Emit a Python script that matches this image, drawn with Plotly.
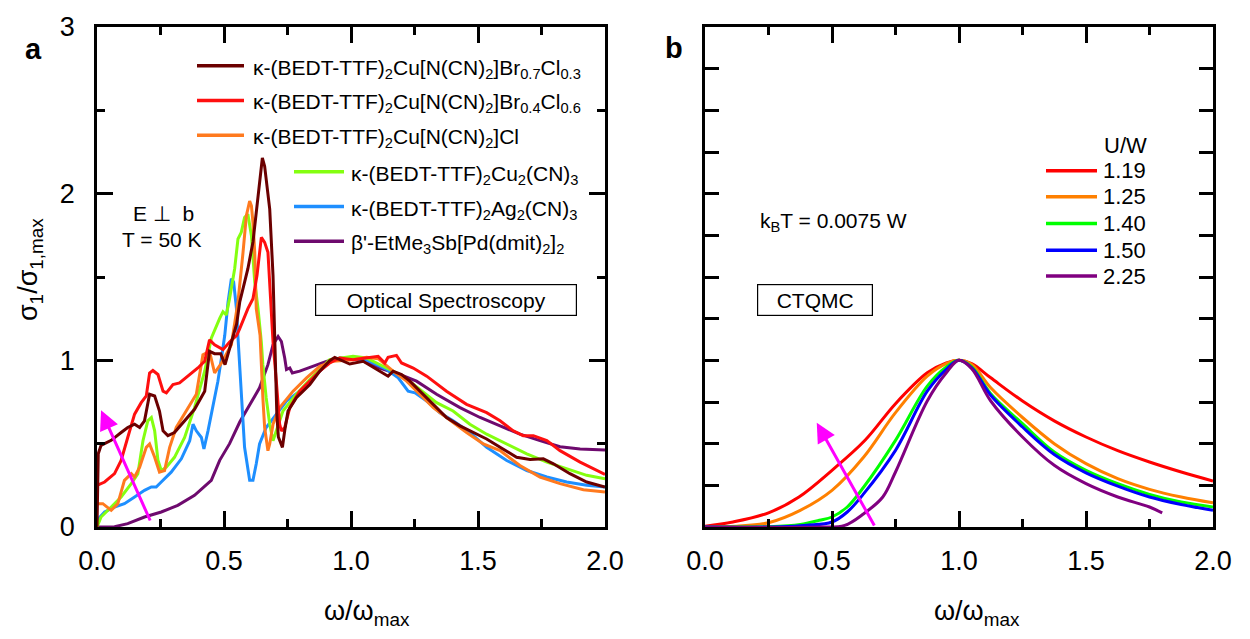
import plotly.graph_objects as go

FONT = "Liberation Sans, Arial, sans-serif"

# ---------------- Panel a data (optical spectroscopy) ----------------
br07_x = [0.0, 0.005, 0.016, 0.056, 0.095, 0.121, 0.148, 0.168, 0.187, 0.207, 0.227, 0.246, 0.26, 0.279, 0.305,
          0.345, 0.384, 0.424, 0.443, 0.463, 0.487, 0.504, 0.518, 0.53, 0.55, 0.562, 0.594, 0.614, 0.634, 0.651,
          0.66, 0.673, 0.68, 0.693, 0.699, 0.703, 0.708, 0.714, 0.73, 0.739, 0.752, 0.785, 0.838, 0.877, 0.916,
          0.936, 0.995, 1.048, 1.1, 1.146, 1.166, 1.199, 1.232, 1.271, 1.324, 1.376, 1.429, 1.481, 1.534, 1.587,
          1.652, 1.705, 1.757, 1.797, 1.862, 1.928, 2.0]
br07_y = [0.0, 0.44, 0.49, 0.52, 0.567, 0.597, 0.617, 0.597, 0.637, 0.796, 0.786, 0.696, 0.577, 0.548, 0.567,
          0.637, 0.706, 0.815, 1.054, 1.04, 1.04, 0.974, 1.054, 1.11, 1.22, 1.35, 1.55, 1.71, 2.006, 2.214,
          2.165, 1.986, 1.907, 1.51, 1.17, 0.974, 0.677, 0.54, 0.478, 0.577, 0.696, 0.776, 0.855, 0.935, 0.998,
          1.018, 0.978, 0.994, 0.945, 0.905, 0.935, 0.915, 0.875, 0.815, 0.736, 0.657, 0.607, 0.567, 0.528, 0.478,
          0.418, 0.405, 0.409, 0.379, 0.32, 0.27, 0.24]

br04_x = [0.0, 0.03, 0.069, 0.095, 0.121, 0.148, 0.174, 0.194, 0.207, 0.22, 0.24, 0.26, 0.273, 0.299, 0.325,
          0.358, 0.397, 0.424, 0.443, 0.463, 0.496, 0.522, 0.55, 0.562, 0.594, 0.614, 0.63, 0.647, 0.66, 0.673,
          0.686, 0.693, 0.706, 0.719, 0.726, 0.739, 0.759, 0.798, 0.838, 0.877, 0.916, 0.956, 1.008, 1.061, 1.107,
          1.133, 1.146, 1.179, 1.199, 1.245, 1.298, 1.376, 1.455, 1.534, 1.587, 1.639, 1.678, 1.718, 1.771, 1.823,
          1.902, 2.0]
br04_y = [0.25, 0.27, 0.32, 0.4, 0.537, 0.677, 0.746, 0.786, 0.924, 0.939, 0.915, 0.815, 0.805, 0.855, 0.865,
          0.905, 0.954, 0.994, 1.123, 1.093, 1.064, 1.11, 1.15, 1.19, 1.31, 1.37, 1.51, 1.738, 1.708, 1.649,
          1.31, 1.11, 0.875, 0.617, 0.577, 0.597, 0.716, 0.815, 0.875, 0.935, 0.984, 1.014, 1.004, 1.014, 1.024,
          0.984, 1.018, 1.03, 0.984, 0.954, 0.905, 0.815, 0.736, 0.686, 0.637, 0.577, 0.548, 0.548, 0.518, 0.458,
          0.389, 0.315]

cl_x = [0.0, 0.023, 0.056, 0.082, 0.108, 0.135, 0.148, 0.168, 0.194, 0.207, 0.227, 0.246, 0.266, 0.286, 0.312,
        0.351, 0.391, 0.417, 0.443, 0.463, 0.49, 0.529, 0.555, 0.575, 0.588, 0.601, 0.608, 0.614, 0.621, 0.627,
        0.642, 0.653, 0.66, 0.673, 0.68, 0.693, 0.719, 0.772, 0.825, 0.877, 0.929, 1.008, 1.061, 1.107, 1.166,
        1.219, 1.271, 1.324, 1.376, 1.455, 1.521, 1.587, 1.665, 1.744, 1.823, 1.915, 2.0]
cl_y = [0.14, 0.14, 0.1, 0.14, 0.28, 0.32, 0.3, 0.359, 0.478, 0.498, 0.418, 0.329, 0.339, 0.478, 0.597,
        0.696, 0.796, 1.034, 1.054, 0.924, 0.984, 1.093, 1.35, 1.649, 1.867, 1.956, 1.927, 1.827, 1.649, 1.31,
        1.15, 0.776, 0.597, 0.458, 0.498, 0.617, 0.716, 0.815, 0.895, 0.964, 0.994, 1.004, 1.018, 1.01, 0.935,
        0.875, 0.796, 0.716, 0.657, 0.567, 0.498, 0.458, 0.369, 0.3, 0.26, 0.224, 0.21]

cu2_x = [0.0, 0.016, 0.056, 0.095, 0.135, 0.161, 0.181, 0.2, 0.214, 0.227, 0.24, 0.253, 0.273, 0.305, 0.345,
         0.384, 0.424, 0.45, 0.483, 0.496, 0.509, 0.522, 0.542, 0.555, 0.568, 0.581, 0.594, 0.608, 0.621, 0.634,
         0.647, 0.653, 0.666, 0.68, 0.693, 0.706, 0.732, 0.785, 0.838, 0.89, 0.916, 1.008, 1.061, 1.14, 1.205,
         1.271, 1.337, 1.402, 1.468, 1.534, 1.613, 1.692, 1.771, 1.849, 1.928, 2.0]
cu2_y = [0.0, 0.06, 0.12, 0.18, 0.26, 0.32, 0.518, 0.637, 0.657, 0.577, 0.4, 0.339, 0.359, 0.418, 0.537,
         0.716, 0.935, 1.133, 1.252, 1.292, 1.272, 1.371, 1.55, 1.728, 1.768, 1.857, 1.877, 1.748, 1.47, 1.31,
         1.11, 0.974, 0.776, 0.617, 0.518, 0.577, 0.696, 0.796, 0.885, 0.964, 1.004, 1.024, 1.014, 0.954, 0.905,
         0.825, 0.746, 0.696, 0.617, 0.557, 0.498, 0.439, 0.389, 0.349, 0.31, 0.29]

ag2_x = [0.0, 0.03, 0.069, 0.108, 0.148, 0.187, 0.214, 0.233, 0.253, 0.292, 0.332, 0.365, 0.378, 0.391, 0.411,
         0.421, 0.437, 0.456, 0.476, 0.49, 0.503, 0.516, 0.529, 0.538, 0.549, 0.555, 0.568, 0.581, 0.601, 0.614,
         0.627, 0.64, 0.666, 0.706, 0.746, 0.798, 0.851, 0.903, 0.929, 1.008, 1.074, 1.14, 1.186, 1.225, 1.252,
         1.298, 1.35, 1.402, 1.468, 1.534, 1.613, 1.692, 1.771, 1.849, 1.928, 2.0]
ag2_y = [0.04, 0.09, 0.12, 0.14, 0.18, 0.22, 0.24, 0.24, 0.27, 0.329, 0.409, 0.518, 0.617, 0.577, 0.537,
         0.468, 0.577, 0.716, 0.875, 1.014, 1.15, 1.35, 1.49, 1.47, 1.31, 1.14, 0.776, 0.478, 0.28, 0.28,
         0.379, 0.498, 0.597, 0.677, 0.756, 0.815, 0.895, 0.974, 1.004, 1.014, 0.994, 0.945, 0.895, 0.815, 0.805,
         0.756, 0.686, 0.637, 0.567, 0.478, 0.399, 0.339, 0.3, 0.27, 0.25, 0.24]

pd_x = [0.0, 0.069, 0.121, 0.187, 0.253, 0.318, 0.384, 0.45, 0.483, 0.522, 0.562, 0.601, 0.64, 0.673, 0.693,
        0.713, 0.726, 0.739, 0.746, 0.759, 0.769, 0.798, 0.851, 0.903, 0.956, 1.035, 1.113, 1.192, 1.258, 1.337,
        1.429, 1.508, 1.587, 1.665, 1.744, 1.823, 1.902, 2.0]
pd_y = [0.0, 0.002, 0.02, 0.06, 0.09, 0.13, 0.19, 0.28, 0.40, 0.50, 0.63, 0.736, 0.835, 0.974, 1.093,
        1.143, 1.113, 1.014, 0.945, 0.954, 0.924, 0.935, 0.964, 0.994, 1.014, 1.004, 0.954, 0.915, 0.875, 0.796,
        0.716, 0.657, 0.607, 0.557, 0.518, 0.482, 0.468, 0.462]

labels_a = [
    "κ-(BEDT-TTF)<sub>2</sub>Cu[N(CN)<sub>2</sub>]Br<sub>0.7</sub>Cl<sub>0.3</sub>",
    "κ-(BEDT-TTF)<sub>2</sub>Cu[N(CN)<sub>2</sub>]Br<sub>0.4</sub>Cl<sub>0.6</sub>",
    "κ-(BEDT-TTF)<sub>2</sub>Cu[N(CN)<sub>2</sub>]Cl",
    "κ-(BEDT-TTF)<sub>2</sub>Cu<sub>2</sub>(CN)<sub>3</sub>",
    "κ-(BEDT-TTF)<sub>2</sub>Ag<sub>2</sub>(CN)<sub>3</sub>",
    "β'-EtMe<sub>3</sub>Sb[Pd(dmit)<sub>2</sub>]<sub>2</sub>",
]
colors_a = ["#6B0000", "#FF0F0F", "#FF7A1F", "#84FF10", "#1E8FFF", "#6E0A6E"]
series_a = [(br07_x, br07_y), (br04_x, br04_y), (cl_x, cl_y), (cu2_x, cu2_y), (ag2_x, ag2_y), (pd_x, pd_y)]

# ---------------- Panel b data (CTQMC) ----------------
uw_labels = ["1.19", "1.25", "1.40", "1.50", "2.25"]
colors_b = ["#FF0000", "#FF8000", "#00FF00", "#0000FF", "#800080"]

u119_x = [0.0, 0.11, 0.25, 0.37, 0.5, 0.63, 0.75, 0.875, 0.95, 1.0, 1.05, 1.125, 1.25, 1.375, 1.5, 1.625, 1.75, 1.875, 2.0]
u119_y = [0.005, 0.03, 0.085, 0.18, 0.34, 0.52, 0.74, 0.925, 0.985, 1.0, 0.98, 0.895, 0.756, 0.637, 0.54, 0.458, 0.39, 0.33, 0.276]

u125_x = [0.0, 0.125, 0.25, 0.375, 0.5, 0.625, 0.75, 0.875, 0.95, 1.0, 1.05, 1.125, 1.25, 1.375, 1.5, 1.625, 1.75, 1.875, 2.0]
u125_y = [0.0, 0.005, 0.026, 0.1, 0.22, 0.42, 0.686, 0.905, 0.98, 1.0, 0.975, 0.835, 0.657, 0.5, 0.38, 0.29, 0.226, 0.18, 0.145]

u140_x = [0.0, 0.25, 0.375, 0.45, 0.5, 0.56, 0.625, 0.75, 0.875, 0.95, 1.0, 1.05, 1.125, 1.25, 1.375, 1.5, 1.625, 1.75, 1.875, 2.0]
u140_y = [0.0, 0.002, 0.015, 0.04, 0.06, 0.12, 0.24, 0.52, 0.845, 0.96, 1.0, 0.96, 0.8, 0.62, 0.45, 0.34, 0.26, 0.196, 0.15, 0.12]

u150_x = [0.0, 0.3, 0.4, 0.5, 0.56, 0.625, 0.75, 0.875, 0.95, 1.0, 1.05, 1.125, 1.25, 1.375, 1.5, 1.625, 1.75, 1.875, 2.0]
u150_y = [0.0, 0.001, 0.01, 0.03, 0.09, 0.2, 0.46, 0.815, 0.946, 1.0, 0.955, 0.79, 0.6, 0.435, 0.325, 0.245, 0.18, 0.135, 0.1]

u225_x = [0.0, 0.45, 0.55, 0.625, 0.7, 0.75, 0.875, 0.95, 1.0, 1.05, 1.125, 1.25, 1.375, 1.5, 1.625, 1.75, 1.8]
u225_y = [0.0, 0.0, 0.01, 0.08, 0.18, 0.33, 0.756, 0.925, 1.0, 0.95, 0.756, 0.54, 0.37, 0.26, 0.18, 0.12, 0.085]

series_b = [(u119_x, u119_y), (u125_x, u125_y), (u140_x, u140_y), (u150_x, u150_y), (u225_x, u225_y)]

xtick_vals = [0, 0.5, 1.0, 1.5, 2.0]
xtick_text = ["0.0", "0.5", "1.0", "1.5", "2.0"]
ytick_vals_a = [0, 1, 2, 3]
ytick_text_a = ["0", "1", "2", "3"]

# ---------------- Figure ----------------
W, H = 1250, 639
ML, MR, MT, MB = 97, 37, 23, 112
PW, PH = W - ML - MR, H - MT - MB


def fx(p):
    return (p - ML) / PW


def fy(p):
    return 1 - (p - MT) / PH


fig = go.Figure()

# panel a: draw purple first, dark brown last
for i in [5, 4, 3, 2, 1, 0]:
    xs, ys = series_a[i]
    fig.add_trace(go.Scatter(x=xs, y=ys, mode="lines", name=labels_a[i],
                             line=dict(color=colors_a[i], width=3), showlegend=False,
                             xaxis="x", yaxis="y"))

for i in range(5):
    xs, ys = series_b[i]
    fig.add_trace(go.Scatter(x=xs, y=ys, mode="lines", name=uw_labels[i],
                             line=dict(color=colors_b[i], width=3, shape="spline", smoothing=1.0),
                             showlegend=False, xaxis="x2", yaxis="y2"))

common = dict(showline=True, linecolor="black", linewidth=2.5, mirror="allticks", ticks="inside",
              tickwidth=2.5, tickcolor="black", showgrid=False, zeroline=False,
              tickfont=dict(size=27, family=FONT, color="black"))
minor = dict(ticks="inside", ticklen=8, tickwidth=2.5, tickcolor="black", dtick=0.25, showgrid=False)

fig.update_layout(
    width=W, height=H, margin=dict(l=ML, r=MR, t=MT, b=MB),
    plot_bgcolor="white", paper_bgcolor="white",
    font=dict(family=FONT, color="black"),
    xaxis=dict(domain=[0, (605 - ML) / PW], range=[0, 2], tickvals=xtick_vals, ticktext=xtick_text,
               ticklen=16, ticklabelstandoff=8, minor=minor, anchor="y", **common),
    yaxis=dict(domain=[0, 1], range=[0, 3], tickvals=ytick_vals_a, ticktext=ytick_text_a,
               ticklen=16, ticklabelstandoff=14, minor=dict(minor, dtick=0.5), anchor="x", **common),
    xaxis2=dict(domain=[(705 - ML) / PW, 1], range=[0, 2], tickvals=xtick_vals, ticktext=xtick_text,
                ticklen=16, ticklabelstandoff=8, minor=minor, anchor="y2", **common),
    yaxis2=dict(domain=[0, 1], range=[0, 3], dtick=0.25, ticklen=14, showticklabels=False,
                anchor="x2", **common),
)

ann = []
shapes = []


def text(x, y, t, size=21, xanchor="center", yanchor="middle", **kw):
    ann.append(dict(x=fx(x), y=fy(y), xref="paper", yref="paper", text=t, showarrow=False,
                    xanchor=xanchor, yanchor=yanchor, font=dict(size=size, family=FONT, color="black"), **kw))


# panel letters
text(33, 45, "<b>a</b>", size=29)
text(674, 44, "<b>b</b>", size=29)

# axis titles
text(30, 268, "σ<sub>1</sub>/σ<sub>1,max</sub>", size=27, textangle=-90)
text(367, 614, "ω/ω<sub>max</sub>", size=27)
text(977, 614, "ω/ω<sub>max</sub>", size=27)

# panel a legend
leg_a_y = [62, 97, 132, 169, 204, 239]
for i in range(6):
    x0, x1, xt = (197, 244, 251) if i < 3 else (294, 344, 349)
    shapes.append(dict(type="line", xref="paper", yref="paper", x0=fx(x0), x1=fx(x1),
                       y0=fy(leg_a_y[i]), y1=fy(leg_a_y[i]), line=dict(color=colors_a[i], width=3.5)))
    text(xt, leg_a_y[i] + 3, labels_a[i], size=21, xanchor="left")

text(163, 211, "E ⊥  b", size=21)
text(162, 237, "T = 50 K", size=21)
text(446, 298, "Optical Spectroscopy", size=21, bordercolor="black", borderwidth=1.2,
     borderpad=2, width=256, height=26)

# panel b legend
text(1125, 142, "U/W", size=22)
leg_b_y = [168, 194, 221, 248, 274]
for i in range(5):
    shapes.append(dict(type="line", xref="paper", yref="paper", x0=fx(1046), x1=fx(1097),
                       y0=fy(leg_b_y[i]), y1=fy(leg_b_y[i]), line=dict(color=colors_b[i], width=3.5)))
    text(1101, leg_b_y[i], uw_labels[i], size=22, xanchor="left")

text(758, 220, "k<sub>B</sub>T = 0.0075 W", size=21, xanchor="left")
text(815, 298, "CTQMC", size=21, bordercolor="black", borderwidth=1.2, borderpad=2, width=110, height=26)

# magenta arrows
ann.append(dict(x=0.016, y=0.70, ax=0.212, ay=0.03, xref="x", yref="y", axref="x", ayref="y",
                text="", showarrow=True, arrowhead=2, arrowsize=1.3, arrowwidth=3, arrowcolor="#FF00FF"))
ann.append(dict(x=0.44, y=0.625, ax=0.67, ay=0.0, xref="x2", yref="y2", axref="x2", ayref="y2",
                text="", showarrow=True, arrowhead=2, arrowsize=1.3, arrowwidth=3, arrowcolor="#FF00FF"))

fig.update_layout(annotations=ann, shapes=shapes)
fig.write_html("out.html")
